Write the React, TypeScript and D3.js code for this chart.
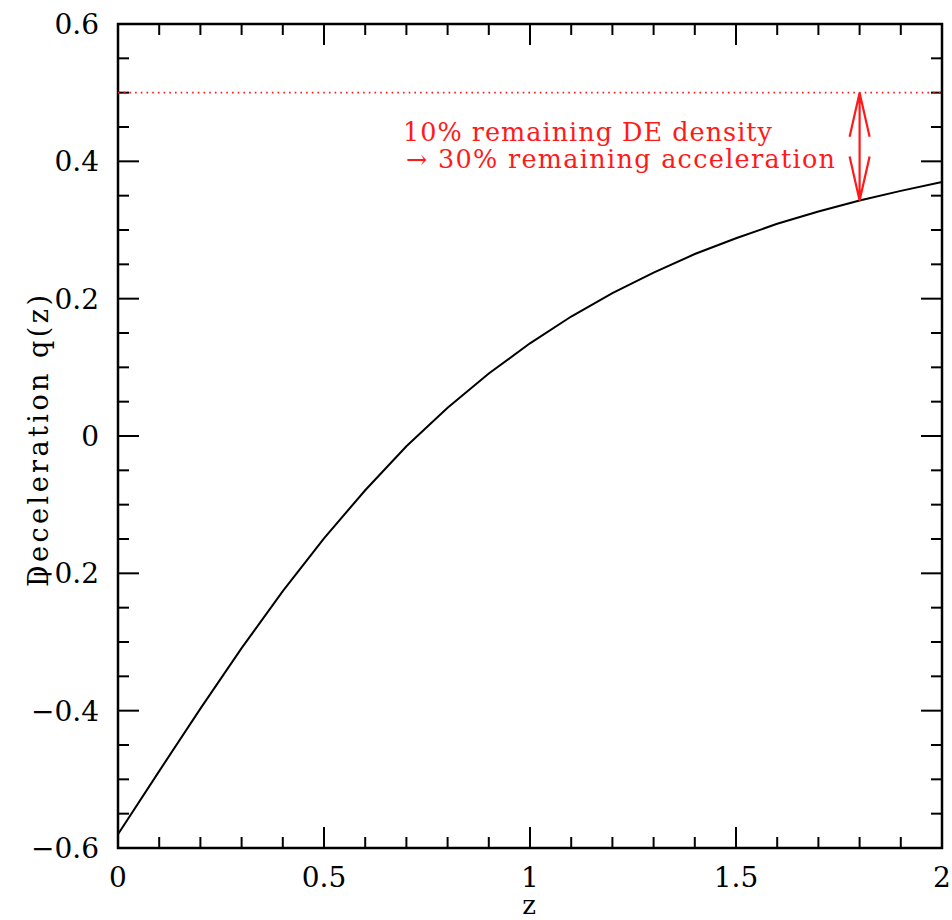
import { useEffect, useRef } from "react";
import * as d3 from "d3";

// redshift samples and the deceleration parameter
const zValues = [0, 0.1, 0.2, 0.3, 0.4, 0.5, 0.6, 0.7, 0.8, 0.9, 1.0, 1.1, 1.2, 1.3, 1.4, 1.5, 1.6, 1.7, 1.8, 1.9, 2.0];
const qValues = [-0.58, -0.488, -0.397, -0.309, -0.226, -0.149, -0.079, -0.015, 0.041, 0.091, 0.135, 0.174, 0.208, 0.238, 0.265, 0.288, 0.309, 0.327, 0.343, 0.357, 0.37];

const xMajorTicks = [0, 0.5, 1, 1.5, 2];
const xTickLabels = ["0", "0.5", "1", "1.5", "2"];
const yMajorTicks = [-0.6, -0.4, -0.2, 0, 0.2, 0.4, 0.6];
const yTickLabels = ["\u22120.6", "\u22120.4", "\u22120.2", "0", "0.2", "0.4", "0.6"];

const referenceQ = 0.5; // red dotted line
const arrowZ = 1.8;
const arrowQ = 0.343;
const noteLines = ["10% remaining DE density", "\u2192 30% remaining acceleration"];

const W = 952;
const H = 920;
const margin = { left: 118, right: 10, top: 24, bottom: 72 };
const FONT = "'DejaVu Serif', serif";
const RED = "#ff1a1a";

const App = () => {
  const svgRef = useRef<SVGSVGElement>(null);

  useEffect(() => {
    const svg = d3.select(svgRef.current);
    svg.selectAll("*").remove();

    const x = d3.scaleLinear().domain([0, 2]).range([margin.left, W - margin.right]);
    const y = d3.scaleLinear().domain([-0.6, 0.6]).range([H - margin.bottom, margin.top]);
    const [x0, x1] = x.range();
    const [y0, y1] = y.range();

    const g = svg.append("g");

    // minor + major ticks on all four sides
    const xMinor = d3.range(0, 21).map((i) => i / 10);
    const yMinor = d3.range(0, 25).map((i) => -0.6 + i * 0.05);
    const isMajor = (v: number, step: number) => Math.abs(v / step - Math.round(v / step)) < 1e-6;

    xMinor.forEach((v) => {
      const len = isMajor(v, 0.5) ? 21 : 11;
      g.append("line").attr("x1", x(v)).attr("x2", x(v)).attr("y1", y0).attr("y2", y0 - len)
        .attr("stroke", "#000").attr("stroke-width", 2);
      g.append("line").attr("x1", x(v)).attr("x2", x(v)).attr("y1", y1).attr("y2", y1 + len)
        .attr("stroke", "#000").attr("stroke-width", 2);
    });
    yMinor.forEach((v) => {
      const len = isMajor(v, 0.2) ? 21 : 11;
      g.append("line").attr("x1", x0).attr("x2", x0 + len).attr("y1", y(v)).attr("y2", y(v))
        .attr("stroke", "#000").attr("stroke-width", 2);
      g.append("line").attr("x1", x1).attr("x2", x1 - len).attr("y1", y(v)).attr("y2", y(v))
        .attr("stroke", "#000").attr("stroke-width", 2);
    });

    // frame
    g.append("rect")
      .attr("x", x0).attr("y", y1).attr("width", x1 - x0).attr("height", y0 - y1)
      .attr("fill", "none").attr("stroke", "#000").attr("stroke-width", 2.5);

    // tick labels
    g.selectAll(".xl").data(xMajorTicks).enter().append("text")
      .attr("x", (d) => x(d)).attr("y", y0 + 39)
      .attr("text-anchor", "middle").attr("font-family", FONT).attr("font-size", 28)
      .text((d, i) => xTickLabels[i]);
    g.selectAll(".yl").data(yMajorTicks).enter().append("text")
      .attr("x", x0 - 19).attr("y", (d) => y(d) + 10)
      .attr("text-anchor", "end").attr("font-family", FONT).attr("font-size", 28)
      .text((d, i) => yTickLabels[i]);

    // axis titles
    g.append("text").attr("x", x(1) - 1).attr("y", H - 6)
      .attr("text-anchor", "middle").attr("font-family", FONT).attr("font-size", 26)
      .text("z");
    g.append("text")
      .attr("transform", `translate(48, 441) rotate(-90)`)
      .attr("text-anchor", "middle").attr("font-family", FONT).attr("font-size", 27)
      .attr("textLength", 292).attr("lengthAdjust", "spacing")
      .text("Deceleration q(z)");

    // red dotted reference line
    g.append("line")
      .attr("x1", x0).attr("x2", x1).attr("y1", y(referenceQ)).attr("y2", y(referenceQ))
      .attr("stroke", RED).attr("stroke-width", 1.7).attr("stroke-dasharray", "1.6,4.1");

    // curve
    const line = d3.line<number>().x((d, i) => x(zValues[i])).y((d) => y(d));
    g.append("path").datum(qValues)
      .attr("d", line).attr("fill", "none").attr("stroke", "#000").attr("stroke-width", 2);

    // double-headed arrow
    const ax = x(arrowZ);
    const top = y(referenceQ);
    const bot = y(arrowQ);
    const headLen = 44;
    const headHalf = 10;
    g.append("path")
      .attr("d",
        `M${ax},${top}L${ax},${bot}` +
        `M${ax - headHalf},${top + headLen}L${ax},${top}L${ax + headHalf},${top + headLen}` +
        `M${ax - headHalf},${bot - headLen}L${ax},${bot}L${ax + headHalf},${bot - headLen}`)
      .attr("fill", "none").attr("stroke", RED).attr("stroke-width", 2.2);

    // annotation text
    g.append("text").attr("x", 403).attr("y", 141)
      .attr("font-family", FONT).attr("font-size", 25.5).attr("fill", RED)
      .attr("textLength", 369).attr("lengthAdjust", "spacing")
      .text(noteLines[0]);
    g.append("text").attr("x", 406).attr("y", 168)
      .attr("font-family", FONT).attr("font-size", 25.5).attr("fill", RED)
      .attr("textLength", 429).attr("lengthAdjust", "spacing")
      .text(noteLines[1]);
  }, []);

  return (
    <svg
      ref={svgRef}
      width={W}
      height={H}
      style={{ position: "absolute", left: 0, top: 0, background: "#fff" }}
    ></svg>
  );
};

export default App;
